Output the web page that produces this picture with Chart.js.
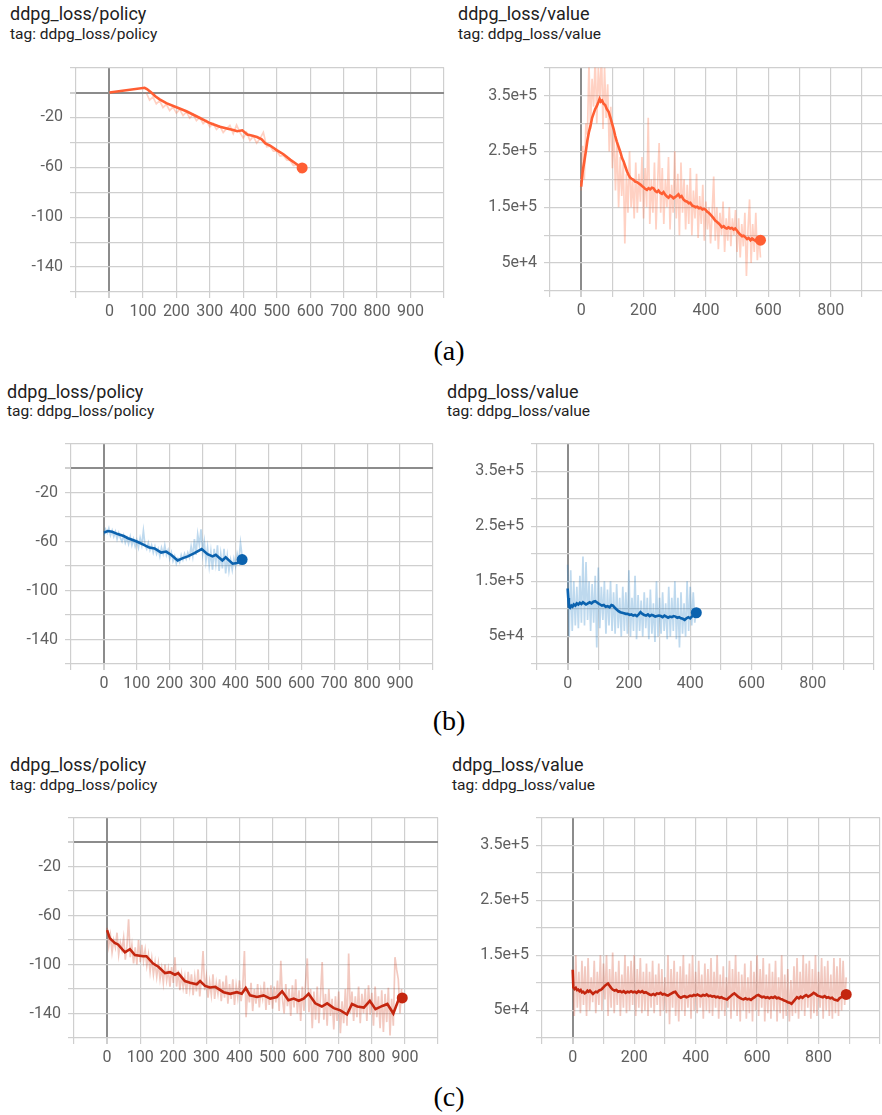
<!DOCTYPE html>
<html>
<head>
<meta charset="utf-8">
<script src="https://cdn.jsdelivr.net/npm/chart.js@4.4.1/dist/chart.umd.min.js"></script>
<style>
  html, body { margin: 0; padding: 0; background: #fff; overflow: hidden; }
  body { width: 882px; height: 1115px; position: relative; }
  .ttl { position: absolute; font-family: Roboto, sans-serif; color: #212121; white-space: nowrap; line-height: 1; }
  .t1 { font-size: 18px; }
  .t2 { font-size: 15.5px; }
  .cap { position: absolute; font-family: "Liberation Serif", serif; font-size: 28px; width: 60px; text-align: center; line-height: 1; color: #000; }
  canvas { position: absolute; }
</style>
</head>
<body>

<div class="ttl t1" style="left:10px;top:5px">ddpg_loss/policy</div>
<div class="ttl t2" style="left:10px;top:27px">tag: ddpg_loss/policy</div>
<div class="ttl t1" style="left:458px;top:5px">ddpg_loss/value</div>
<div class="ttl t2" style="left:458px;top:27px">tag: ddpg_loss/value</div>
<div class="cap" style="left:419px;top:337px">(a)</div>

<div class="ttl t1" style="left:7px;top:383px">ddpg_loss/policy</div>
<div class="ttl t2" style="left:7px;top:404px">tag: ddpg_loss/policy</div>
<div class="ttl t1" style="left:447px;top:383px">ddpg_loss/value</div>
<div class="ttl t2" style="left:447px;top:404px">tag: ddpg_loss/value</div>
<div class="cap" style="left:419px;top:707px">(b)</div>

<div class="ttl t1" style="left:10px;top:756px">ddpg_loss/policy</div>
<div class="ttl t2" style="left:10px;top:778px">tag: ddpg_loss/policy</div>
<div class="ttl t1" style="left:452px;top:756px">ddpg_loss/value</div>
<div class="ttl t2" style="left:452px;top:778px">tag: ddpg_loss/value</div>
<div class="cap" style="left:419px;top:1083px">(c)</div>

<script>
// ---- data (a) : orange run ----
var aPolSmoothX = [0, 105, 112, 125, 137, 150, 170, 202, 230, 260, 302, 330, 357, 370, 382, 397, 412, 425, 441, 455, 466, 480, 501, 520, 541, 560, 576];
var aPolSmoothY = [0, 3.8, 2.8, 0, -3, -5.5, -8.5, -12, -15, -19, -24.7, -27.5, -29.3, -30, -31, -30.3, -33.7, -34.5, -35.7, -37.5, -40.8, -42.5, -46.4, -49.5, -54, -57.5, -60.5];
// raw points every 10 steps starting at step 110
var aPolRaw = [0, -6, -3.5, -9, -6.5, -12, -9.5, -14.5, -11.5, -16.5,
               -13.5, -18.5, -15.5, -20.5, -17.5, -22.5, -20, -25, -22.5, -27.5,
               -25, -29.5, -27, -32, -29, -26.5, -33, -26, -32, -36.5,
               -32, -38.5, -35, -40.5, -37, -32, -43.5, -43, -47, -47,
               -51, -50.5, -54, -54.5, -58.5, -58, -65];

var aValSmoothX = [0, 5, 10, 15, 20, 25, 30, 35, 40, 45, 50, 55, 59, 63, 67, 72, 77, 82, 88, 93,
                   98, 104, 109, 114, 120, 126, 131, 136, 142, 147, 152, 157, 162, 168, 173, 179, 184, 189, 195, 200,
                   205, 211, 216, 221, 227, 232, 238, 243, 248, 253, 259, 264, 270, 275, 280, 285, 290, 296, 301, 306,
                   312, 317, 322, 328, 334, 340, 345, 350, 356, 361, 367, 372, 378, 383, 389, 394, 398, 404, 409, 414,
                   419, 425, 430, 435, 441, 446, 451, 457, 462, 467, 472, 478, 483, 489, 494, 500, 505, 510, 516, 521,
                   527, 532, 537, 543, 548, 553, 559, 564, 570, 575];
var aValSmoothY = [187e3, 215e3, 232e3, 250e3, 270e3, 285e3, 296e3, 310e3, 318e3, 326e3, 331e3, 338e3, 344e3, 339e3, 341e3, 335e3, 333e3, 326e3, 321e3, 312e3,
                   302e3, 290e3, 278e3, 268e3, 258e3, 248e3, 238e3, 232e3, 222e3, 214e3, 208e3, 203e3, 201e3, 199e3, 196e3, 195e3, 193e3, 191e3, 188e3, 186e3,
                   183e3, 181e3, 184e3, 182e3, 185e3, 184e3, 179e3, 177e3, 180e3, 176e3, 174e3, 177e3, 172e3, 169e3, 167e3, 171e3, 169e3, 166e3, 168e3, 170e3,
                   173e3, 168e3, 170e3, 164e3, 161e3, 160e3, 157e3, 158e3, 153e3, 152e3, 150e3, 151e3, 148e3, 149e3, 146e3, 147e3, 146e3, 142e3, 140e3, 137e3,
                   134e3, 130e3, 126e3, 124e3, 121e3, 118e3, 114e3, 116e3, 113e3, 112e3, 114e3, 112e3, 113e3, 110e3, 112e3, 108e3, 104e3, 101e3, 98e3, 99e3,
                   96e3, 93e3, 95e3, 91e3, 94e3, 92e3, 90e3, 93e3, 90e3, 91e3];
// raw points every 5 steps from 0
var aValRaw = [180000, 260000, 200000, 300000,
               280000, 410000, 290000, 380000, 330000, 420000, 300000, 400000, 340000, 430000,
               290000, 400000, 310000, 370000, 250000, 330000,
               220000, 290000, 180000, 270000, 150000, 240000, 170000, 230000, 85000, 210000,
               140000, 250000, 150000, 200000, 130000, 230000, 140000, 210000, 160000, 240000,
               130000, 220000, 150000, 310000, 120000, 200000, 140000, 230000, 110000, 190000,
               265000, 140000, 220000, 120000, 200000, 150000, 240000, 110000, 190000, 140000,
               250000, 130000, 210000, 100000, 230000, 140000, 200000, 110000, 190000, 120000,
               220000, 100000, 180000, 130000, 210000, 95000, 170000, 120000, 190000, 90000,
               160000, 110000, 150000, 85000, 140000, 205000, 90000, 150000, 75000, 140000,
               100000, 160000, 70000, 130000, 90000, 150000, 80000, 130000, 100000, 145000,
               70000, 130000, 60000, 120000, 80000, 140000, 27000, 110000, 164000, 50000,
               120000, 70000, 140000, 55000, 100000, 60000];

// ---- data (b) : blue run ----
var bPolSmoothX = [0, 12, 25, 42, 60, 73, 90, 103, 120, 138, 154, 174, 189, 205, 224, 240, 255, 275, 297, 315, 330, 340, 360, 370, 391, 405, 420];
var bPolSmoothY = [-52.7, -51.4, -52, -53.9, -55.5, -57.3, -59, -60.4, -62.5, -64.9, -65.6, -69, -68.2, -71, -75.5, -73.5, -72.1, -69.5, -66.1, -70.3, -72.1, -70.8, -75.5, -72.9, -78.1, -77.5, -74.7];
var bPolRaw = [-55, -50, -53, -49, -55, -51, -56, -52, -58, -53,
               -57, -60, -55, -61, -57, -62, -56, -63, -58, -64,
               -59, -65, -57, -63, -51, -63, -66, -61, -67, -63,
               -69, -64, -70, -66, -72, -65, -70, -63, -71, -67,
               -74, -69, -76, -72, -78, -74, -77, -71, -75, -70,
               -74, -69, -73, -64, -72, -58, -71, -54, -63, -50,
               -70, -60, -76, -65, -80, -68, -83, -66, -78, -63,
               -84, -70, -82, -66, -86, -72, -84, -75, -83, -74,
               -80, -70, -76, -61, -72];

var bValSmoothX = [0, 2, 4, 8, 12, 16, 20, 25, 30, 35, 40, 45, 50, 55, 60, 66, 72, 78, 84, 90,
                   95, 100, 106, 112, 118, 124, 130, 137, 143, 148, 154, 160, 166, 172, 178, 184, 190, 196, 202, 208,
                   214, 220, 226, 232, 238, 244, 250, 256, 262, 268, 274, 280, 286, 292, 298, 304, 310, 316, 322, 328,
                   334, 340, 346, 352, 358, 364, 370, 376, 382, 388, 394, 400, 405, 410, 415, 420];
var bValSmoothY = [137e3, 120e3, 104e3, 102e3, 106e3, 104e3, 108e3, 106e3, 110e3, 108e3, 111e3, 109e3, 112e3, 110e3, 108e3, 110e3, 112e3, 110e3, 113e3, 114e3,
                   112e3, 110e3, 108e3, 106e3, 107e3, 104e3, 105e3, 103e3, 107e3, 106e3, 102e3, 99e3, 96e3, 94e3, 93e3, 92e3, 91e3, 91e3, 89e3, 90e3,
                   88e3, 89e3, 87e3, 90e3, 94e3, 91e3, 89e3, 88e3, 90e3, 87e3, 89e3, 88e3, 86e3, 87e3, 88e3, 87e3, 85e3, 88e3, 86e3, 84e3,
                   86e3, 85e3, 87e3, 86e3, 84e3, 85e3, 83e3, 82e3, 80e3, 83e3, 85e3, 83e3, 86e3, 88e3, 91e3, 93e3];
var bValRaw = [180000, 50000, 170000, 60000, 150000, 70000, 140000, 65000, 160000, 75000,
               195000, 70000, 185000, 80000, 150000, 60000, 145000, 75000, 160000, 30000,
               175000, 65000, 140000, 80000, 150000, 55000, 135000, 70000, 150000, 60000,
               130000, 55000, 145000, 65000, 120000, 50000, 140000, 60000, 130000, 55000,
               170000, 50000, 120000, 60000, 160000, 45000, 125000, 60000, 115000, 50000,
               130000, 65000, 120000, 45000, 135000, 55000, 110000, 40000, 150000, 50000,
               120000, 55000, 130000, 60000, 110000, 45000, 140000, 50000, 120000, 60000,
               150000, 45000, 120000, 30000, 130000, 55000, 110000, 50000, 150000, 60000,
               140000, 70000, 130000, 75000, 100000];

// ---- data (c) : red run ----
var cPolSmoothX = [0, 8, 23, 33, 54, 69, 84, 109, 119, 139, 155, 175, 190, 205, 215, 235, 251, 271, 281, 296, 311, 327, 352, 372, 392, 407, 419, 432, 453, 473, 493, 513, 529, 548, 564, 579, 594, 609, 629, 649, 665, 685, 705, 725, 740, 756, 776, 794, 811, 832, 847, 865, 882, 892];
var cPolSmoothY = [-71.9, -78.4, -82.3, -83.6, -90.1, -87.5, -92.2, -93.2, -93.2, -99.2, -101.8, -107, -106.2, -108.3, -107, -113.5, -114.8, -116.1, -113.5, -117.5, -118.7, -118.2, -122.6, -123.9, -122.6, -123.9, -119.2, -125.2, -126.5, -125.2, -127.8, -126.5, -121.8, -129.1, -127.8, -129.6, -127.8, -123.9, -131.7, -134.3, -131.7, -135.6, -137.4, -140.8, -132.2, -134.3, -135.1, -129.6, -136.4, -133.8, -132.2, -140, -127.8, -127.3];
var cPolRaw = [-70, -85, -76, -90, -80, -86, -74, -92, -82, -88,
               -78, -96, -85, -63, -94, -84, -99, -86, -100, -80,
               -98, -84, -97, -88, -101, -92, -106, -95, -108, -98,
               -110, -99, -112, -103, -115, -100, -113, -104, -118, -102,
               -115, -94, -118, -105, -121, -108, -119, -110, -124, -106,
               -120, -108, -125, -110, -122, -104, -126, -112, -89, -121,
               -110, -127, -114, -125, -108, -128, -115, -124, -112, -130,
               -114, -127, -109, -132, -116, -128, -112, -133, -117, -127,
               -113, -130, -118, -89, -143, -119, -131, -115, -138, -120,
               -132, -116, -135, -121, -128, -114, -137, -119, -133, -117,
               -136, -118, -131, -113, -138, -97, -128, -140, -116, -134,
               -120, -142, -117, -135, -112, -140, -121, -146, -118, -138,
               -114, -95, -139, -120, -152, -122, -145, -118, -148, -125,
               -98, -145, -124, -150, -120, -142, -128, -153, -126, -146,
               -122, -156, -130, -148, -120, -150, -91, -140, -122, -146,
               -126, -143, -118, -148, -124, -140, -120, -146, -117, -141,
               -123, -150, -118, -143, -126, -152, -121, -155, -124, -147,
               -119, -158, -128, -150, -94, -104, -112, -140, -120];

var cValSmoothX = [0, 2, 6, 10, 14, 18, 22, 26, 30, 34, 39, 44, 48, 52, 56, 61, 66, 70, 75, 80,
                   85, 90, 95, 100, 105, 110, 115, 120, 125, 130, 136, 142, 148, 154, 160, 166, 172, 178, 184, 190,
                   196, 202, 208, 214, 220, 226, 232, 238, 244, 250, 256, 262, 268, 274, 280, 286, 292, 298, 304, 310,
                   316, 322, 328, 334, 340, 346, 352, 358, 364, 370, 376, 382, 388, 394, 400, 406, 412, 418, 424, 430,
                   436, 442, 448, 454, 460, 466, 472, 478, 484, 490, 496, 502, 508, 514, 520, 526, 532, 538, 544, 550,
                   556, 562, 568, 574, 580, 586, 592, 598, 604, 610, 616, 622, 628, 634, 640, 646, 652, 658, 664, 670,
                   676, 682, 688, 694, 700, 706, 712, 718, 724, 730, 736, 742, 748, 754, 760, 766, 772, 778, 784, 790,
                   796, 802, 808, 814, 820, 826, 832, 838, 844, 850, 856, 862, 868, 874, 880, 885, 890];
var cValSmoothY = [124e3, 92e3, 89e3, 91e3, 87e3, 88e3, 85e3, 87e3, 83e3, 84e3, 81e3, 83e3, 86e3, 84e3, 86e3, 83e3, 80e3, 82e3, 84e3, 83e3,
                   86e3, 87e3, 89e3, 92e3, 95e3, 97e3, 99e3, 95e3, 91e3, 88e3, 86e3, 87e3, 84e3, 85e3, 83e3, 85e3, 82e3, 84e3, 83e3, 85e3,
                   83e3, 84e3, 82e3, 85e3, 83e3, 85e3, 82e3, 83e3, 81e3, 79e3, 78e3, 80e3, 78e3, 81e3, 80e3, 82e3, 79e3, 80e3, 78e3, 77e3,
                   79e3, 81e3, 83e3, 84e3, 79e3, 75e3, 73e3, 75e3, 76e3, 74e3, 75e3, 77e3, 76e3, 78e3, 77e3, 79e3, 77e3, 76e3, 78e3, 77e3,
                   79e3, 76e3, 77e3, 75e3, 76e3, 74e3, 75e3, 73e3, 74e3, 72e3, 71e3, 70e3, 73e3, 76e3, 79e3, 81e3, 78e3, 75e3, 73e3, 71e3,
                   70e3, 72e3, 70e3, 71e3, 69e3, 72e3, 74e3, 77e3, 78e3, 76e3, 74e3, 75e3, 73e3, 74e3, 72e3, 74e3, 73e3, 75e3, 72e3, 73e3,
                   71e3, 70e3, 68e3, 67e3, 65e3, 64e3, 62e3, 66e3, 70e3, 74e3, 72e3, 75e3, 73e3, 76e3, 78e3, 75e3, 77e3, 79e3, 82e3, 80e3,
                   77e3, 76e3, 75e3, 74e3, 76e3, 73e3, 74e3, 72e3, 73e3, 70e3, 69e3, 68e3, 72e3, 74e3, 76e3, 78e3, 79e3];
var cValRaw = [120000, 40000, 150000, 55000, 120000, 45000, 140000, 60000, 130000, 40000,
               145000, 50000, 110000, 65000, 140000, 45000, 120000, 60000, 150000, 50000,
               135000, 70000, 150000, 40000, 125000, 55000, 155000, 45000, 120000, 60000,
               140000, 40000, 115000, 55000, 150000, 45000, 130000, 50000, 140000, 60000,
               150000, 40000, 125000, 55000, 145000, 45000, 120000, 50000, 135000, 40000,
               120000, 55000, 140000, 45000, 115000, 60000, 135000, 40000, 125000, 50000,
               110000, 45000, 150000, 25000, 125000, 55000, 140000, 40000, 120000, 30000,
               130000, 50000, 150000, 40000, 115000, 55000, 135000, 35000, 150000, 50000,
               120000, 45000, 140000, 55000, 115000, 35000, 135000, 50000, 125000, 45000,
               145000, 40000, 120000, 55000, 150000, 35000, 115000, 50000, 130000, 40000,
               110000, 55000, 140000, 35000, 125000, 50000, 150000, 40000, 120000, 30000,
               115000, 50000, 135000, 35000, 110000, 45000, 140000, 30000, 120000, 50000,
               150000, 40000, 125000, 55000, 145000, 30000, 115000, 45000, 135000, 35000,
               120000, 50000, 140000, 30000, 110000, 45000, 150000, 35000, 115000, 40000,
               125000, 30000, 105000, 40000, 130000, 45000, 145000, 35000, 120000, 50000,
               150000, 40000, 135000, 55000, 140000, 35000, 125000, 45000, 150000, 40000,
               120000, 55000, 145000, 35000, 130000, 50000, 140000, 40000, 115000, 35000,
               145000, 45000, 130000, 40000, 145000, 50000, 140000, 60000, 110000];

// axis ticks
var xTicks = [-100, 1000, 100];           // min, max, step
var polTicks = [-160, 20, 20];
var valTicks = [0, 400000, 50000];

// ---- layout / style ----
var Y_W = 80, PAD = 6, X_H = 40;
var GRID = '#cfcfcf', ZERO = '#8c8c8c', TICKTXT = '#5f5f5f';

Chart.defaults.font.family = 'Roboto, sans-serif';

function steps(start, step, n) {
  var a = [];
  for (var i = 0; i < n; i++) a.push(start + i * step);
  return a;
}
function pts(xs, ys) {
  return xs.map(function (x, i) { return { x: x, y: ys[i] }; });
}

function makePanel(o) {
  var c = document.createElement('canvas');
  var w = o.box[2] - o.box[0] + Y_W + PAD;
  var h = o.box[3] - o.box[1] + PAD + X_H;
  c.width = w; c.height = h;
  c.style.width = w + 'px'; c.style.height = h + 'px';
  c.style.left = (o.box[0] - Y_W) + 'px';
  c.style.top = (o.box[1] - PAD) + 'px';
  document.body.appendChild(c);

  var pol = o.kind === 'policy';
  var yt = pol ? polTicks : valTicks;
  var last = o.smX.length - 1;

  new Chart(c, {
    type: 'line',
    data: {
      datasets: [
        { data: pts(o.smX, o.smY), borderColor: o.color, backgroundColor: o.color, borderWidth: 2.6,
          tension: 0, pointBorderWidth: 0, pointHoverRadius: 0,
          pointRadius: function (ctx) { return ctx.dataIndex === last ? 5.5 : 0; } },
        { data: pts(o.rawX, o.rawY), borderColor: o.light, borderWidth: 1.7, pointRadius: 0, tension: 0 }
      ]
    },
    options: {
      responsive: false, animation: false, devicePixelRatio: 1,
      layout: { padding: { top: PAD, right: PAD, left: 0, bottom: 0 } },
      plugins: { legend: { display: false }, tooltip: { enabled: false } },
      scales: {
        x: {
          type: 'linear', min: xTicks[0], max: xTicks[1],
          afterFit: function (s) { s.height = X_H; },
          border: { display: false },
          grid: {
            color: function (ctx) { return ctx.tick && ctx.tick.value === 0 ? ZERO : GRID; },
            lineWidth: function (ctx) { return ctx.tick && ctx.tick.value === 0 ? 2 : 1.2; },
            tickLength: 6, tickColor: GRID
          },
          ticks: {
            stepSize: xTicks[2], autoSkip: false, maxRotation: 0, padding: 4,
            color: TICKTXT, font: { size: 16 },
            callback: function (v) {
              if (v < 0 || v > 900) return '';
              if (!pol && v % 200 !== 0) return '';
              return String(v);
            }
          }
        },
        y: {
          min: yt[0], max: yt[1],
          afterFit: function (s) { s.width = Y_W; },
          border: { display: false },
          grid: {
            color: function (ctx) { return pol && ctx.tick && ctx.tick.value === 0 ? ZERO : GRID; },
            lineWidth: function (ctx) { return pol && ctx.tick && ctx.tick.value === 0 ? 2 : 1.2; },
            tickLength: 6, tickColor: GRID
          },
          ticks: {
            stepSize: yt[2], autoSkip: false, padding: 7,
            color: TICKTXT, font: { size: 16 },
            callback: function (v) {
              if (pol) return (v % 40 === -20) ? String(v) : '';
              return (v % 100000 === 50000) ? Number(v).toExponential() : '';
            }
          }
        }
      }
    }
  });
}

var ORANGE = '#ff5e33', ORANGE_L = 'rgba(255,112,67,0.32)';
var BLUE = '#0b62ae', BLUE_L = 'rgba(40,130,200,0.3)';
var RED = '#c4260f', RED_L = 'rgba(210,60,30,0.28)';

// (a) --- START
makePanel({ kind: 'policy', box: [76, 57, 444, 292], color: ORANGE, light: ORANGE_L,
  smX: aPolSmoothX, smY: aPolSmoothY, rawX: steps(110, 10, aPolRaw.length), rawY: aPolRaw });
makePanel({ kind: 'value', box: [550, 57, 893, 291], color: ORANGE, light: ORANGE_L,
  smX: aValSmoothX, smY: aValSmoothY, rawX: steps(0, 5, aValRaw.length), rawY: aValRaw });
// (a) --- END

// (b) --- START
makePanel({ kind: 'policy', box: [71, 433, 433, 664], color: BLUE, light: BLUE_L,
  smX: bPolSmoothX, smY: bPolSmoothY, rawX: steps(0, 5, bPolRaw.length), rawY: bPolRaw });
makePanel({ kind: 'value', box: [537, 433, 874, 664], color: BLUE, light: BLUE_L,
  smX: bValSmoothX, smY: bValSmoothY, rawX: steps(0, 5, bValRaw.length), rawY: bValRaw });
// (b) --- END

// (c) --- START
makePanel({ kind: 'policy', box: [74, 807, 438, 1038], color: RED, light: RED_L,
  smX: cPolSmoothX, smY: cPolSmoothY, rawX: steps(0, 5, cPolRaw.length), rawY: cPolRaw });
makePanel({ kind: 'value', box: [542, 807, 880, 1038], color: RED, light: RED_L,
  smX: cValSmoothX, smY: cValSmoothY, rawX: steps(0, 5, cValRaw.length), rawY: cValRaw });
// (c) --- END
</script>
</body>
</html>
